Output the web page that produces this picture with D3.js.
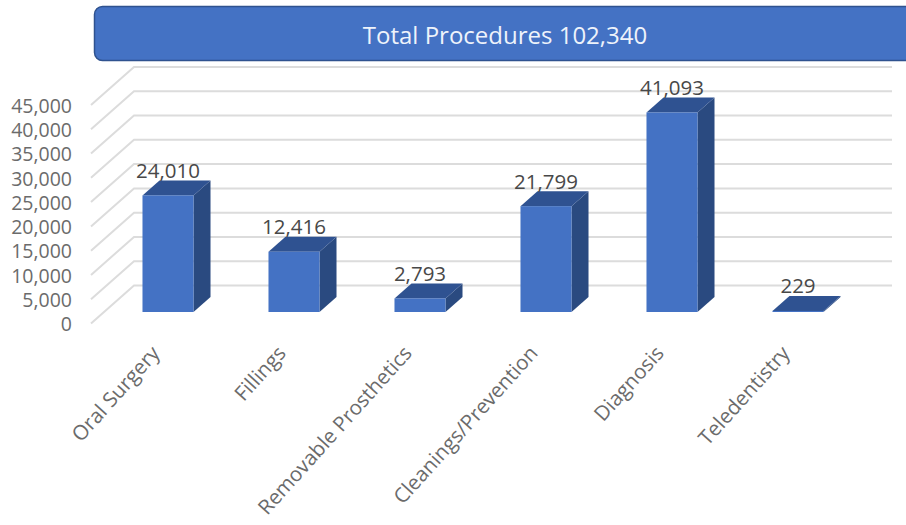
<!DOCTYPE html>
<html lang="en">
<head>
<meta charset="UTF-8">
<title>Total Procedures</title>
<script src="https://d3js.org/d3.v7.min.js"></script>
<style>
    html, body { margin: 0; padding: 0; background: #fff; }
    svg { display: block; }
    text { font-family: "Open Sans", sans-serif; }
</style>
</head>
<body>
<svg id="chart" width="906" height="525"></svg>
<script>
    const categories = ["Oral Surgery", "Fillings", "Removable Prosthetics", "Cleanings/Prevention", "Diagnosis", "Teledentistry"];
    const values = [24010, 12416, 2793, 21799, 41093, 229];
    const yTicks = [0, 5000, 10000, 15000, 20000, 25000, 30000, 35000, 40000, 45000];
    const titleText = "Total Procedures 102,340";

    const svg = d3.select("#chart");

    // front edge of the side wall
    const y = d3.scaleLinear().domain([0, 45000]).range([323.5, 105]);
    const x = d3.scaleBand().domain(categories).range([105, 861]).paddingInner(0.595).paddingOuter(0.2975);
    const fmt = d3.format(",");

    const wallDx = 43, wallDy = 38, wallRight = 892, wallLeft = 91;
    const barDx = 17, barDy = 15, floorLift = 11.5;

    // title banner
    svg.append("rect")
        .attr("x", 94.5).attr("y", 6.5)
        .attr("width", 830).attr("height", 54)
        .attr("rx", 8)
        .attr("fill", "#4472c4")
        .attr("stroke", "#2f528f")
        .attr("stroke-width", 1.5);
    svg.append("text")
        .attr("x", 505).attr("y", 44)
        .attr("text-anchor", "middle")
        .attr("font-size", 24)
        .attr("fill", "#eef3fb")
        .text(titleText);

    // gridlines, side wall then back wall
    const grid = svg.append("g").attr("fill", "none").attr("stroke", "#dcdcdc").attr("stroke-width", 2);
    grid.selectAll("path")
        .data(yTicks)
        .enter()
        .append("path")
        .attr("d", d => {
            let p = d3.path();
            p.moveTo(wallLeft, y(d));
            p.lineTo(wallLeft + wallDx, y(d) - wallDy);
            p.lineTo(wallRight, y(d) - wallDy);
            return p.toString();
        });

    // y axis labels only
    const axis = svg.append("g")
        .attr("transform", `translate(78,1)`)
        .call(d3.axisLeft(y).tickValues(yTicks).tickFormat(fmt).tickSize(0).tickPadding(6));
    axis.select(".domain").remove();
    axis.selectAll("text")
        .attr("font-family", "Open Sans")
        .attr("font-size", 19.5)
        .attr("fill", "#6b6b6b");

    // bars
    const bars = svg.selectAll("g.bar")
        .data(categories.map((c, i) => ({ name: c, value: values[i] })))
        .enter()
        .append("g")
        .attr("class", "bar");

    const base = y(0) - floorLift;
    const barTop = d => base - (y(0) - y(d.value));
    const w = x.bandwidth();

    bars.append("polygon")
        .attr("fill", "#2a4a80")
        .attr("points", d => {
            let x1 = x(d.name) + w;
            return [[x1, barTop(d)], [x1 + barDx, barTop(d) - barDy], [x1 + barDx, base - barDy], [x1, base]].join(" ");
        });
    bars.append("polygon")
        .attr("fill", "#2f5291")
        .attr("points", d => {
            let x0 = x(d.name), x1 = x0 + w;
            return [[x0, barTop(d)], [x1, barTop(d)], [x1 + barDx, barTop(d) - barDy], [x0 + barDx, barTop(d) - barDy]].join(" ");
        });
    bars.append("rect")
        .attr("x", d => x(d.name))
        .attr("y", d => barTop(d))
        .attr("width", w)
        .attr("height", d => base - barTop(d))
        .attr("fill", "#4472c4");

    // value labels
    bars.append("text")
        .attr("x", d => x(d.name) + w / 2)
        .attr("y", d => barTop(d) - barDy - 2.5)
        .attr("text-anchor", "middle")
        .attr("font-size", 20.5)
        .attr("fill", "#484848")
        .text(d => fmt(d.value));

    // slanted category labels
    svg.selectAll("text.cat")
        .data(categories)
        .enter()
        .append("text")
        .attr("class", "cat")
        .attr("text-anchor", "end")
        .attr("font-size", 20.5)
        .attr("fill", "#6b6b6b")
        .attr("transform", d => `translate(${x(d) + w / 2 - 7},${354}) rotate(-48)`)
        .text(d => d);
</script>
</body>
</html>
